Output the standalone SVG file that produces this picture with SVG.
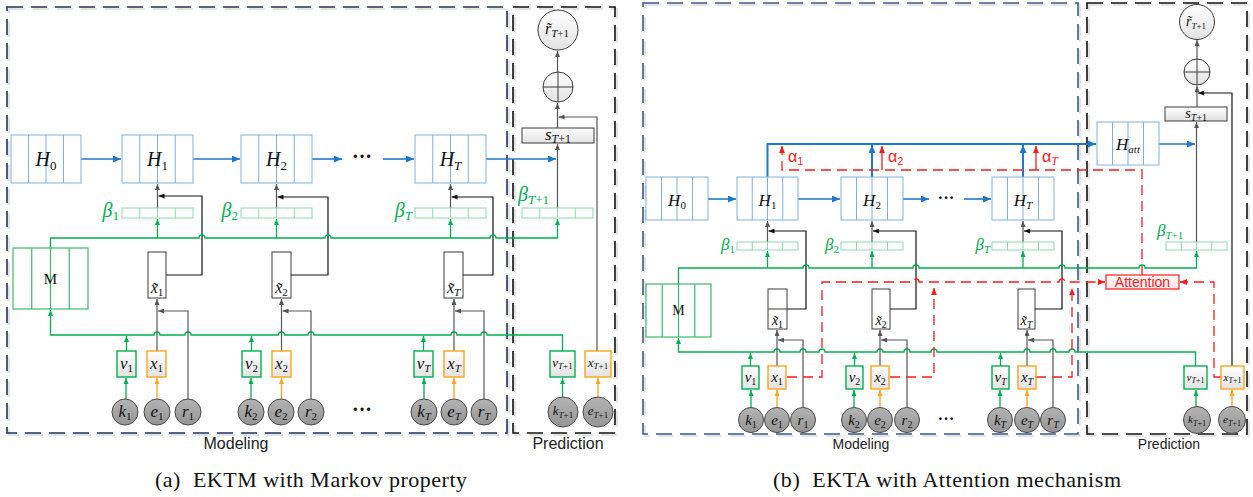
<svg xmlns="http://www.w3.org/2000/svg" width="1253" height="497" viewBox="0 0 1253 497">
<defs>
<linearGradient id="gf" x1="0" y1="0" x2="0" y2="1"><stop offset="0" stop-color="#FFFFFF"/><stop offset="1" stop-color="#E2E2E2"/></linearGradient>
<linearGradient id="gc" x1="0" y1="0" x2="0" y2="1"><stop offset="0" stop-color="#B4B4B4"/><stop offset="1" stop-color="#959595"/></linearGradient>
<linearGradient id="gp" x1="0" y1="0" x2="0" y2="1"><stop offset="0" stop-color="#FFFFFF"/><stop offset="1" stop-color="#FDE3E3"/></linearGradient>
<marker id="ab" viewBox="0 0 8 7" refX="8" refY="3.5" markerWidth="8" markerHeight="7" orient="auto" markerUnits="userSpaceOnUse"><path d="M0,0 L8,3.5 L0,7z" fill="#1F78C8"/></marker>
<marker id="ag" viewBox="0 0 6 5" refX="6" refY="2.5" markerWidth="6" markerHeight="5" orient="auto" markerUnits="userSpaceOnUse"><path d="M0,0 L6,2.5 L0,5z" fill="#555"/></marker>
<marker id="ak" viewBox="0 0 6 5" refX="6" refY="2.5" markerWidth="6" markerHeight="5" orient="auto" markerUnits="userSpaceOnUse"><path d="M0,0 L6,2.5 L0,5z" fill="#111"/></marker>
<marker id="an" viewBox="0 0 6 5" refX="6" refY="2.5" markerWidth="6" markerHeight="5" orient="auto" markerUnits="userSpaceOnUse"><path d="M0,0 L6,2.5 L0,5z" fill="#00B050"/></marker>
<marker id="ao" viewBox="0 0 6 5" refX="6" refY="2.5" markerWidth="6" markerHeight="5" orient="auto" markerUnits="userSpaceOnUse"><path d="M0,0 L6,2.5 L0,5z" fill="#FFA41B"/></marker>
<marker id="ar" viewBox="0 0 6 5" refX="6" refY="2.5" markerWidth="7" markerHeight="6" orient="auto" markerUnits="userSpaceOnUse"><path d="M0,0 L6,2.5 L0,5z" fill="#FF1A1A"/></marker>
</defs>
<style>
.sh{fill:none;stroke:#DCDCDC;stroke-width:1.5;stroke-dasharray:16 8}
.fa{fill:none;stroke:#1F3160;stroke-width:1.6;stroke-dasharray:16 8}
.fb{fill:none;stroke:#3F5688;stroke-width:1.6;stroke-dasharray:16 8}
.fk{fill:none;stroke:#111;stroke-width:1.6;stroke-dasharray:16 8}
.hb{fill:#fff;stroke:#7FB1E0;stroke-width:1}
.bb{fill:#fff;stroke:#8FD8AA;stroke-width:1}
.mb{fill:#fff;stroke:#3DBA6C;stroke-width:1.2}
.vb{fill:url(#gf);stroke:#00B050;stroke-width:1.4}
.xb{fill:url(#gf);stroke:#FFA41B;stroke-width:1.4}
.tb{fill:#fff;stroke:#3A3A3A;stroke-width:1}
.sb{fill:url(#gf);stroke:#3A3A3A;stroke-width:1}
.cc{fill:url(#gc);stroke:#4A4A4A;stroke-width:1}
.oc{fill:url(#gf);stroke:#3A3A3A;stroke-width:1}
.bl{fill:none;stroke:#1F78C8;stroke-width:1.6}
.bt{fill:none;stroke:#1F78C8;stroke-width:2}
.gr{fill:none;stroke:#555;stroke-width:1.2}
.bk{fill:none;stroke:#111;stroke-width:1.2}
.gl{fill:none;stroke:#00B050;stroke-width:1.3}
.og{fill:none;stroke:#FFA41B;stroke-width:1.3}
.rd{fill:none;stroke:#FF1A1A;stroke-width:1.3;stroke-dasharray:10 6}
.rs{fill:none;stroke:#FF1A1A;stroke-width:1.3}
.m{font-family:"Liberation Serif",serif;font-style:italic;fill:#111;text-anchor:middle}
.up{font-style:normal}
.bt1{font-family:"Liberation Serif",serif;font-style:italic;fill:#00B050}
.lb{font-family:"Liberation Sans",sans-serif;fill:#222;text-anchor:middle}
.al{font-family:"Liberation Sans",sans-serif;fill:#FF1A1A;font-size:16px}
.cap{font-family:"Liberation Serif",serif;fill:#111;font-size:22px}
</style>

<!-- ================= PANEL (a) ================= -->
<g id="a-frame-modeling"><rect class="sh" x="9" y="9" width="500" height="426"/><rect class="fa" x="7" y="7" width="500" height="426"/><text class="lb" x="236" y="449" font-size="16">Modeling</text></g>
<g id="a-frame-prediction"><rect class="sh" x="515" y="9" width="102" height="426"/><rect class="fk" x="513" y="7" width="102" height="426"/><text class="lb" x="568" y="449" font-size="16">Prediction</text></g>
<text class="cap" x="155" y="487" textLength="312" lengthAdjust="spacing">(a)&#160; EKTM with Markov property</text>

<g id="a-connectors">
<path class="bl" d="M81,159 H121" marker-end="url(#ab)"/>
<path class="bl" d="M193,159 H240" marker-end="url(#ab)"/>
<path class="bl" d="M312,159 H342" marker-end="url(#ab)"/>
<path class="bl" d="M383,159 H414" marker-end="url(#ab)"/>
<path class="bl" d="M486,159 H556" marker-end="url(#ab)"/>
<path class="gr" d="M157.5,208 V184" marker-end="url(#ag)"/>
<path class="gr" d="M276.5,208 V184" marker-end="url(#ag)"/>
<path class="gr" d="M450.5,208 V184" marker-end="url(#ag)"/>
<path class="gr" d="M557.5,208 V144" marker-end="url(#ag)"/>
<path class="gr" d="M557.5,128 V103" marker-end="url(#ag)"/>
<path class="gr" d="M557.5,72 V51" marker-end="url(#ag)"/>
<path class="bk" d="M148,275 H202 V196 H158.5" marker-end="url(#ak)"/>
<path class="bk" d="M272,275 H328 V197 H277.5" marker-end="url(#ak)"/>
<path class="bk" d="M444,275 H493 V197 H451.5" marker-end="url(#ak)"/>
<path class="gl" d="M50.5,248 V238 H199 a3,3 0 0 1 6,0 H325 a3,3 0 0 1 6,0 H490 a3,3 0 0 1 6,0 H557.5 V219" marker-end="url(#an)"/>
<path class="gl" d="M157.5,238 V219" marker-end="url(#an)"/>
<path class="gl" d="M276.5,238 V219" marker-end="url(#an)"/>
<path class="gl" d="M450.5,238 V219" marker-end="url(#an)"/>
<path class="gl" d="M562.5,351 V335 H487 a3,3 0 0 0 -6,0 H457 a3,3 0 0 0 -6,0 H314 a3,3 0 0 0 -6,0 H284.5 a3,3 0 0 0 -6,0 H191 a3,3 0 0 0 -6,0 H160 a3,3 0 0 0 -6,0 H50.5 V310" marker-end="url(#an)"/>
<path class="gl" d="M126.5,351 V336" marker-end="url(#an)"/>
<path class="gl" d="M251.5,351 V336" marker-end="url(#an)"/>
<path class="gl" d="M423.5,351 V336" marker-end="url(#an)"/>
<path class="gl" d="M126,399 V378" marker-end="url(#an)"/>
<path class="gl" d="M251,399 V378" marker-end="url(#an)"/>
<path class="gl" d="M424,399 V378" marker-end="url(#an)"/>
<path class="gl" d="M562.5,397 V378" marker-end="url(#an)"/>
<path class="og" d="M157,399 V378" marker-end="url(#ao)"/>
<path class="og" d="M281.5,399 V378" marker-end="url(#ao)"/>
<path class="og" d="M454,399 V378" marker-end="url(#ao)"/>
<path class="og" d="M598,397 V378" marker-end="url(#ao)"/>
<path class="gr" d="M157,351 V299" marker-end="url(#ag)"/>
<path class="gr" d="M281.5,351 V299" marker-end="url(#ag)"/>
<path class="gr" d="M454,351 V299" marker-end="url(#ag)"/>
<path class="gr" d="M188,399 V311 H158" marker-end="url(#ag)"/>
<path class="gr" d="M311,399 V311 H282.5" marker-end="url(#ag)"/>
<path class="gr" d="M484,399 V311 H455" marker-end="url(#ag)"/>
<path class="gr" d="M597,351 V117 H558.5" marker-end="url(#ag)"/>
</g>

<g id="a-H0"><rect class="hb" x="11" y="135" width="70" height="48"/><path class="hb" d="M28.5,135V183M46,135V183M63.5,135V183"/><text class="m" x="46" y="166" font-size="20">H<tspan dy="4" font-size="13" class="up">0</tspan></text></g>
<g id="a-H1"><rect class="hb" x="122" y="135" width="71" height="48"/><path class="hb" d="M139.75,135V183M157.5,135V183M175.25,135V183"/><text class="m" x="157.5" y="166" font-size="20">H<tspan dy="4" font-size="13" class="up">1</tspan></text></g>
<g id="a-H2"><rect class="hb" x="241" y="135" width="71" height="48"/><path class="hb" d="M258.75,135V183M276.5,135V183M294.25,135V183"/><text class="m" x="276.5" y="166" font-size="20">H<tspan dy="4" font-size="13" class="up">2</tspan></text></g>
<g id="a-dots-H"><text class="m up" x="362" y="163" font-size="20" font-weight="bold">···</text></g>
<g id="a-HT"><rect class="hb" x="415" y="135" width="71" height="48"/><path class="hb" d="M432.75,135V183M450.5,135V183M468.25,135V183"/><text class="m" x="450.5" y="166" font-size="20">H<tspan dy="4" font-size="13">T</tspan></text></g>

<g id="a-beta1"><rect class="bb" x="122" y="208" width="71" height="10"/><path class="bb" d="M139.75,208V218M157.5,208V218M175.25,208V218"/><text class="bt1" x="119" y="217" font-size="20" text-anchor="end">β<tspan dy="3" font-size="13" font-style="normal">1</tspan></text></g>
<g id="a-beta2"><rect class="bb" x="241" y="208" width="71" height="10"/><path class="bb" d="M258.75,208V218M276.5,208V218M294.25,208V218"/><text class="bt1" x="238" y="217" font-size="20" text-anchor="end">β<tspan dy="3" font-size="13" font-style="normal">2</tspan></text></g>
<g id="a-betaT"><rect class="bb" x="415" y="208" width="71" height="10"/><path class="bb" d="M432.75,208V218M450.5,208V218M468.25,208V218"/><text class="bt1" x="412" y="217" font-size="20" text-anchor="end">β<tspan dy="3" font-size="13">T</tspan></text></g>
<g id="a-betaT1"><rect class="bb" x="522" y="208" width="71" height="10"/><path class="bb" d="M539.75,208V218M557.5,208V218M575.25,208V218"/><text class="bt1" x="518" y="201" font-size="20">β<tspan dy="3" font-size="13">T</tspan><tspan font-size="13" font-style="normal">+1</tspan></text></g>

<g id="a-M"><rect class="mb" x="13" y="248" width="75" height="61"/><path class="mb" d="M31.75,248V309M50.5,248V309M69.25,248V309"/><text class="m up" x="50.5" y="284" font-size="15">M</text></g>

<g id="a-xt1"><rect class="tb" x="148" y="252" width="18" height="46"/><text class="m" x="157" y="293" font-size="16">x&#x303;<tspan dy="3" font-size="11" class="up">1</tspan></text></g>
<g id="a-xt2"><rect class="tb" x="272" y="252" width="19" height="46"/><text class="m" x="281.5" y="293" font-size="16">x&#x303;<tspan dy="3" font-size="11" class="up">2</tspan></text></g>
<g id="a-xtT"><rect class="tb" x="444" y="252" width="19" height="46"/><text class="m" x="453.5" y="293" font-size="16">x&#x303;<tspan dy="3" font-size="11">T</tspan></text></g>

<g id="a-v1"><rect class="vb" x="117" y="351" width="19" height="26"/><text class="m" x="126.5" y="369" font-size="17">v<tspan dy="3" font-size="11" class="up">1</tspan></text></g>
<g id="a-x1"><rect class="xb" x="147" y="351" width="19" height="26"/><text class="m" x="156.5" y="369" font-size="17">x<tspan dy="3" font-size="11" class="up">1</tspan></text></g>
<g id="a-v2"><rect class="vb" x="242" y="351" width="19" height="26"/><text class="m" x="251.5" y="369" font-size="17">v<tspan dy="3" font-size="11" class="up">2</tspan></text></g>
<g id="a-x2"><rect class="xb" x="272" y="351" width="19" height="26"/><text class="m" x="281.5" y="369" font-size="17">x<tspan dy="3" font-size="11" class="up">2</tspan></text></g>
<g id="a-vT"><rect class="vb" x="414" y="351" width="19" height="26"/><text class="m" x="423.5" y="369" font-size="17">v<tspan dy="3" font-size="11">T</tspan></text></g>
<g id="a-xT"><rect class="xb" x="444" y="351" width="20" height="26"/><text class="m" x="454" y="369" font-size="17">x<tspan dy="3" font-size="11">T</tspan></text></g>
<g id="a-vT1"><rect class="vb" x="550" y="351" width="25" height="26"/><text class="m" x="562.5" y="367" font-size="13">v<tspan dy="2" font-size="9">T<tspan class="up">+1</tspan></tspan></text></g>
<g id="a-xT1"><rect class="xb" x="585" y="351" width="26" height="26"/><text class="m" x="598" y="367" font-size="13">x<tspan dy="2" font-size="9">T<tspan class="up">+1</tspan></tspan></text></g>

<g id="a-k1"><circle class="cc" cx="125" cy="412" r="13"/><text class="m" x="125" y="417" font-size="17">k<tspan dy="3" font-size="11" class="up">1</tspan></text></g>
<g id="a-e1"><circle class="cc" cx="157" cy="412" r="13"/><text class="m" x="157" y="417" font-size="17">e<tspan dy="3" font-size="11" class="up">1</tspan></text></g>
<g id="a-r1"><circle class="cc" cx="188" cy="412" r="13"/><text class="m" x="188" y="417" font-size="17">r<tspan dy="3" font-size="11" class="up">1</tspan></text></g>
<g id="a-k2"><circle class="cc" cx="251" cy="412" r="13"/><text class="m" x="251" y="417" font-size="17">k<tspan dy="3" font-size="11" class="up">2</tspan></text></g>
<g id="a-e2"><circle class="cc" cx="281" cy="412" r="13"/><text class="m" x="281" y="417" font-size="17">e<tspan dy="3" font-size="11" class="up">2</tspan></text></g>
<g id="a-r2"><circle class="cc" cx="311" cy="412" r="13"/><text class="m" x="311" y="417" font-size="17">r<tspan dy="3" font-size="11" class="up">2</tspan></text></g>
<g id="a-dots-in"><text class="m up" x="362" y="416" font-size="20" font-weight="bold">···</text></g>
<g id="a-kT"><circle class="cc" cx="424" cy="412" r="13"/><text class="m" x="424" y="417" font-size="17">k<tspan dy="3" font-size="11">T</tspan></text></g>
<g id="a-eT"><circle class="cc" cx="454" cy="412" r="13"/><text class="m" x="454" y="417" font-size="17">e<tspan dy="3" font-size="11">T</tspan></text></g>
<g id="a-rT"><circle class="cc" cx="484" cy="412" r="13"/><text class="m" x="484" y="417" font-size="17">r<tspan dy="3" font-size="11">T</tspan></text></g>
<g id="a-kT1"><circle class="cc" cx="563" cy="412" r="15"/><text class="m" x="563" y="415" font-size="13">k<tspan dy="3" font-size="9">T<tspan class="up">+1</tspan></tspan></text></g>
<g id="a-eT1"><circle class="cc" cx="598" cy="412" r="15"/><text class="m" x="598" y="415" font-size="13">e<tspan dy="3" font-size="9">T<tspan class="up">+1</tspan></tspan></text></g>

<g id="a-s"><rect class="sb" x="522" y="128" width="72" height="15"/><text class="m" x="558" y="140" font-size="17">s<tspan dy="3" font-size="12">T<tspan class="up">+1</tspan></tspan></text></g>
<g id="a-plus"><circle class="oc" cx="558" cy="87" r="15"/><path class="tb" d="M543,87H573M558,72V102"/></g>
<g id="a-r"><circle class="oc" cx="558" cy="30" r="20"/><text class="m" x="557" y="34" font-size="16">r&#x303;<tspan dy="3" font-size="11">T<tspan class="up">+1</tspan></tspan></text></g>

<!-- ================= PANEL (b) ================= -->
<g id="b-frame-modeling"><rect class="sh" x="645" y="5" width="435" height="431"/><rect class="fb" x="643" y="3" width="435" height="431"/><text class="lb" x="861" y="449" font-size="14">Modeling</text></g>
<g id="b-frame-prediction"><rect class="sh" x="1089" y="5" width="160" height="431"/><rect class="fk" x="1087" y="3" width="160" height="431"/><text class="lb" x="1169" y="449" font-size="14">Prediction</text></g>
<text class="cap" x="773" y="487" textLength="348" lengthAdjust="spacing">(b)&#160; EKTA with Attention mechanism</text>

<g id="b-connectors">
<path class="bl" d="M708,199 H736" marker-end="url(#ab)"/>
<path class="bl" d="M798,199 H840" marker-end="url(#ab)"/>
<path class="bl" d="M903,199 H929" marker-end="url(#ab)"/>
<path class="bl" d="M964,199 H991" marker-end="url(#ab)"/>
<path class="bt" d="M767.5,177 V144 H1096" marker-end="url(#ab)"/>
<path class="bt" d="M872,177 V145" marker-end="url(#ab)"/>
<path class="bt" d="M1023,177 V145" marker-end="url(#ab)"/>
<path class="bl" d="M1159,144 H1195" marker-end="url(#ab)"/>
<path class="rd" d="M1142,275 V170 H782 V146" marker-end="url(#ar)"/>
<path class="rs" d="M882,170 V146" marker-end="url(#ar)"/>
<path class="rs" d="M1036,170 V146" marker-end="url(#ar)"/>
<path class="gr" d="M767.5,242 V221" marker-end="url(#ag)"/>
<path class="gr" d="M872,242 V221" marker-end="url(#ag)"/>
<path class="gr" d="M1023,242 V221" marker-end="url(#ag)"/>
<path class="gr" d="M1196.5,242 V122" marker-end="url(#ag)"/>
<path class="gr" d="M1197,107 V86" marker-end="url(#ag)"/>
<path class="gr" d="M1197,59 V40" marker-end="url(#ag)"/>
<path class="bk" d="M768,309 H806 V231 H768.5" marker-end="url(#ak)"/>
<path class="bk" d="M872,309 H916 V231 H873" marker-end="url(#ak)"/>
<path class="bk" d="M1018,309 H1062 V231 H1024" marker-end="url(#ak)"/>
<path class="bk" d="M1232,366 V93 H1198" marker-end="url(#ak)"/>
<path class="gl" d="M678.5,284 V268 H803 a3,3 0 0 1 6,0 H913 a3,3 0 0 1 6,0 H1059 a3,3 0 0 1 6,0 H1139 a3,3 0 0 1 6,0 H1196.5 V251" marker-end="url(#an)"/>
<path class="gl" d="M767.5,268 V251" marker-end="url(#an)"/>
<path class="gl" d="M872,268 V251" marker-end="url(#an)"/>
<path class="gl" d="M1023,268 V251" marker-end="url(#an)"/>
<path class="gl" d="M1195.5,366 V352 H1075 a3,3 0 0 0 -6,0 H1056 a3,3 0 0 0 -6,0 H1030 a3,3 0 0 0 -6,0 H937 a3,3 0 0 0 -6,0 H910 a3,3 0 0 0 -6,0 H883 a3,3 0 0 0 -6,0 H825 a3,3 0 0 0 -6,0 H806 a3,3 0 0 0 -6,0 H780 a3,3 0 0 0 -6,0 H678.5 V338" marker-end="url(#an)"/>
<path class="gl" d="M750.5,366 V353" marker-end="url(#an)"/>
<path class="gl" d="M854.5,366 V353" marker-end="url(#an)"/>
<path class="gl" d="M1000.5,366 V353" marker-end="url(#an)"/>
<path class="gl" d="M751,407 V390" marker-end="url(#an)"/>
<path class="gl" d="M854,407 V390" marker-end="url(#an)"/>
<path class="gl" d="M1000,407 V390" marker-end="url(#an)"/>
<path class="gl" d="M1196,406 V390" marker-end="url(#an)"/>
<path class="og" d="M777,407 V390" marker-end="url(#ao)"/>
<path class="og" d="M880,407 V390" marker-end="url(#ao)"/>
<path class="og" d="M1027,407 V390" marker-end="url(#ao)"/>
<path class="og" d="M1232,406 V390" marker-end="url(#ao)"/>
<path class="gr" d="M777,366 V330" marker-end="url(#ag)"/>
<path class="gr" d="M880,366 V330" marker-end="url(#ag)"/>
<path class="gr" d="M1027,366 V330" marker-end="url(#ag)"/>
<path class="gr" d="M803,407 V340 H778" marker-end="url(#ag)"/>
<path class="gr" d="M907,407 V340 H881" marker-end="url(#ag)"/>
<path class="gr" d="M1053,407 V340 H1028" marker-end="url(#ag)"/>
<path class="rd" d="M787,377 H822 V282 H913 a3,3 0 0 1 6,0 H1059 a3,3 0 0 1 6,0 H1105" marker-end="url(#ar)"/>
<path class="rd" d="M890,377 H934 V288" marker-end="url(#ar)"/>
<path class="rd" d="M1036,377 H1072 V288" marker-end="url(#ar)"/>
<path class="rd" d="M1221,377 H1214 V282 H1180" marker-end="url(#ar)"/>
</g>

<g id="b-alpha1"><text class="al" x="788" y="162">α<tspan dy="3" font-size="11">1</tspan></text></g>
<g id="b-alpha2"><text class="al" x="888" y="162">α<tspan dy="3" font-size="11">2</tspan></text></g>
<g id="b-alphaT"><text class="al" x="1042" y="162">α<tspan dy="3" font-size="12" font-family="Liberation Serif" font-style="italic">T</tspan></text></g>

<g id="b-H0"><rect class="hb" x="646" y="177" width="62" height="43"/><path class="hb" d="M661.5,177V220M677,177V220M692.5,177V220"/><text class="m" x="677" y="206" font-size="17">H<tspan dy="3" font-size="11" class="up">0</tspan></text></g>
<g id="b-H1"><rect class="hb" x="737" y="177" width="61" height="43"/><path class="hb" d="M752.25,177V220M767.5,177V220M782.75,177V220"/><text class="m" x="767.5" y="206" font-size="17">H<tspan dy="3" font-size="11" class="up">1</tspan></text></g>
<g id="b-H2"><rect class="hb" x="841" y="177" width="62" height="43"/><path class="hb" d="M856.5,177V220M872,177V220M887.5,177V220"/><text class="m" x="872" y="206" font-size="17">H<tspan dy="3" font-size="11" class="up">2</tspan></text></g>
<g id="b-dots-H"><text class="m up" x="946" y="203" font-size="17" font-weight="bold">···</text></g>
<g id="b-HT"><rect class="hb" x="992" y="177" width="62" height="43"/><path class="hb" d="M1007.5,177V220M1023,177V220M1038.5,177V220"/><text class="m" x="1023" y="206" font-size="17">H<tspan dy="3" font-size="11">T</tspan></text></g>
<g id="b-Hatt"><rect class="hb" x="1097" y="122" width="62" height="43"/><path class="hb" d="M1112.5,122V165M1128,122V165M1143.5,122V165"/><text class="m" x="1128" y="150" font-size="17">H<tspan dy="3" font-size="11">att</tspan></text></g>

<g id="b-beta1"><rect class="bb" x="737" y="242" width="61" height="8"/><path class="bb" d="M752.25,242V250M767.5,242V250M782.75,242V250"/><text class="bt1" x="735" y="250" font-size="17" text-anchor="end">β<tspan dy="3" font-size="11" font-style="normal">1</tspan></text></g>
<g id="b-beta2"><rect class="bb" x="841" y="242" width="62" height="8"/><path class="bb" d="M856.5,242V250M872,242V250M887.5,242V250"/><text class="bt1" x="839" y="250" font-size="17" text-anchor="end">β<tspan dy="3" font-size="11" font-style="normal">2</tspan></text></g>
<g id="b-betaT"><rect class="bb" x="992" y="242" width="62" height="8"/><path class="bb" d="M1007.5,242V250M1023,242V250M1038.5,242V250"/><text class="bt1" x="990" y="250" font-size="17" text-anchor="end">β<tspan dy="3" font-size="11">T</tspan></text></g>
<g id="b-betaT1"><rect class="bb" x="1166" y="242" width="61" height="8"/><path class="bb" d="M1181.25,242V250M1196.5,242V250M1211.75,242V250"/><text class="bt1" x="1157" y="236" font-size="17">β<tspan dy="3" font-size="11">T</tspan><tspan font-size="11" font-style="normal">+1</tspan></text></g>

<g id="b-M"><rect class="mb" x="646" y="284" width="65" height="53"/><path class="mb" d="M662.25,284V337M678.5,284V337M694.75,284V337"/><text class="m up" x="678.5" y="315" font-size="14">M</text></g>

<g id="b-xt1"><rect class="tb" x="768" y="289" width="19" height="40"/><path class="tb" d="M768,309H787"/><text class="m" x="777.5" y="325" font-size="14">x&#x303;<tspan dy="3" font-size="10" class="up">1</tspan></text></g>
<g id="b-xt2"><rect class="tb" x="872" y="289" width="18" height="40"/><text class="m" x="881" y="325" font-size="14">x&#x303;<tspan dy="3" font-size="10" class="up">2</tspan></text></g>
<g id="b-xtT"><rect class="tb" x="1018" y="289" width="17" height="40"/><text class="m" x="1026.5" y="325" font-size="14">x&#x303;<tspan dy="3" font-size="10">T</tspan></text></g>

<g id="b-attention"><rect x="1106" y="275" width="73" height="14" fill="url(#gp)" stroke="#FF1A1A" stroke-width="1.2"/><text class="lb" x="1142.5" y="287" font-size="14" style="fill:#FF1A1A">Attention</text></g>

<g id="b-v1"><rect class="vb" x="742" y="366" width="17" height="23"/><text class="m" x="750.5" y="382" font-size="15">v<tspan dy="3" font-size="10" class="up">1</tspan></text></g>
<g id="b-x1"><rect class="xb" x="768" y="366" width="18" height="23"/><text class="m" x="777" y="382" font-size="15">x<tspan dy="3" font-size="10" class="up">1</tspan></text></g>
<g id="b-v2"><rect class="vb" x="846" y="366" width="17" height="23"/><text class="m" x="854.5" y="382" font-size="15">v<tspan dy="3" font-size="10" class="up">2</tspan></text></g>
<g id="b-x2"><rect class="xb" x="871" y="366" width="18" height="23"/><text class="m" x="880" y="382" font-size="15">x<tspan dy="3" font-size="10" class="up">2</tspan></text></g>
<g id="b-vT"><rect class="vb" x="992" y="366" width="17" height="23"/><text class="m" x="1000.5" y="382" font-size="15">v<tspan dy="3" font-size="10">T</tspan></text></g>
<g id="b-xT"><rect class="xb" x="1018" y="366" width="18" height="23"/><text class="m" x="1027" y="382" font-size="15">x<tspan dy="3" font-size="10">T</tspan></text></g>
<g id="b-vT1"><rect class="vb" x="1184" y="366" width="23" height="23"/><text class="m" x="1195.5" y="381" font-size="11">v<tspan dy="2" font-size="8">T<tspan class="up">+1</tspan></tspan></text></g>
<g id="b-xT1"><rect class="xb" x="1221" y="366" width="23" height="23"/><text class="m" x="1232.5" y="381" font-size="11">x<tspan dy="2" font-size="8">T<tspan class="up">+1</tspan></tspan></text></g>

<g id="b-k1"><circle class="cc" cx="751" cy="420" r="12.5"/><text class="m" x="751" y="425" font-size="15">k<tspan dy="3" font-size="10" class="up">1</tspan></text></g>
<g id="b-e1"><circle class="cc" cx="777" cy="420" r="12.5"/><text class="m" x="777" y="425" font-size="15">e<tspan dy="3" font-size="10" class="up">1</tspan></text></g>
<g id="b-r1"><circle class="cc" cx="803" cy="420" r="12.5"/><text class="m" x="803" y="425" font-size="15">r<tspan dy="3" font-size="10" class="up">1</tspan></text></g>
<g id="b-k2"><circle class="cc" cx="854" cy="420" r="12.5"/><text class="m" x="854" y="425" font-size="15">k<tspan dy="3" font-size="10" class="up">2</tspan></text></g>
<g id="b-e2"><circle class="cc" cx="880" cy="420" r="12.5"/><text class="m" x="880" y="425" font-size="15">e<tspan dy="3" font-size="10" class="up">2</tspan></text></g>
<g id="b-r2"><circle class="cc" cx="907" cy="420" r="12.5"/><text class="m" x="907" y="425" font-size="15">r<tspan dy="3" font-size="10" class="up">2</tspan></text></g>
<g id="b-dots-in"><text class="m up" x="946" y="424" font-size="17" font-weight="bold">···</text></g>
<g id="b-kT"><circle class="cc" cx="1000" cy="420" r="12.5"/><text class="m" x="1000" y="425" font-size="15">k<tspan dy="3" font-size="10">T</tspan></text></g>
<g id="b-eT"><circle class="cc" cx="1027" cy="420" r="12.5"/><text class="m" x="1027" y="425" font-size="15">e<tspan dy="3" font-size="10">T</tspan></text></g>
<g id="b-rT"><circle class="cc" cx="1053" cy="420" r="12.5"/><text class="m" x="1053" y="425" font-size="15">r<tspan dy="3" font-size="10">T</tspan></text></g>
<g id="b-kT1"><circle class="cc" cx="1197" cy="420" r="13.5"/><text class="m" x="1197" y="423" font-size="11">k<tspan dy="3" font-size="8">T<tspan class="up">+1</tspan></tspan></text></g>
<g id="b-eT1"><circle class="cc" cx="1232" cy="420" r="13.5"/><text class="m" x="1232" y="423" font-size="11">e<tspan dy="3" font-size="8">T<tspan class="up">+1</tspan></tspan></text></g>

<g id="b-s"><rect class="sb" x="1165" y="107" width="62" height="14"/><text class="m" x="1196" y="118" font-size="15">s<tspan dy="3" font-size="10">T<tspan class="up">+1</tspan></tspan></text></g>
<g id="b-plus"><circle class="oc" cx="1197" cy="72" r="13"/><path class="tb" d="M1184,72H1210M1197,59V85"/></g>
<g id="b-r"><circle class="oc" cx="1197" cy="22" r="17.5"/><text class="m" x="1196" y="26" font-size="14">r&#x303;<tspan dy="3" font-size="9">T<tspan class="up">+1</tspan></tspan></text></g>
</svg>
